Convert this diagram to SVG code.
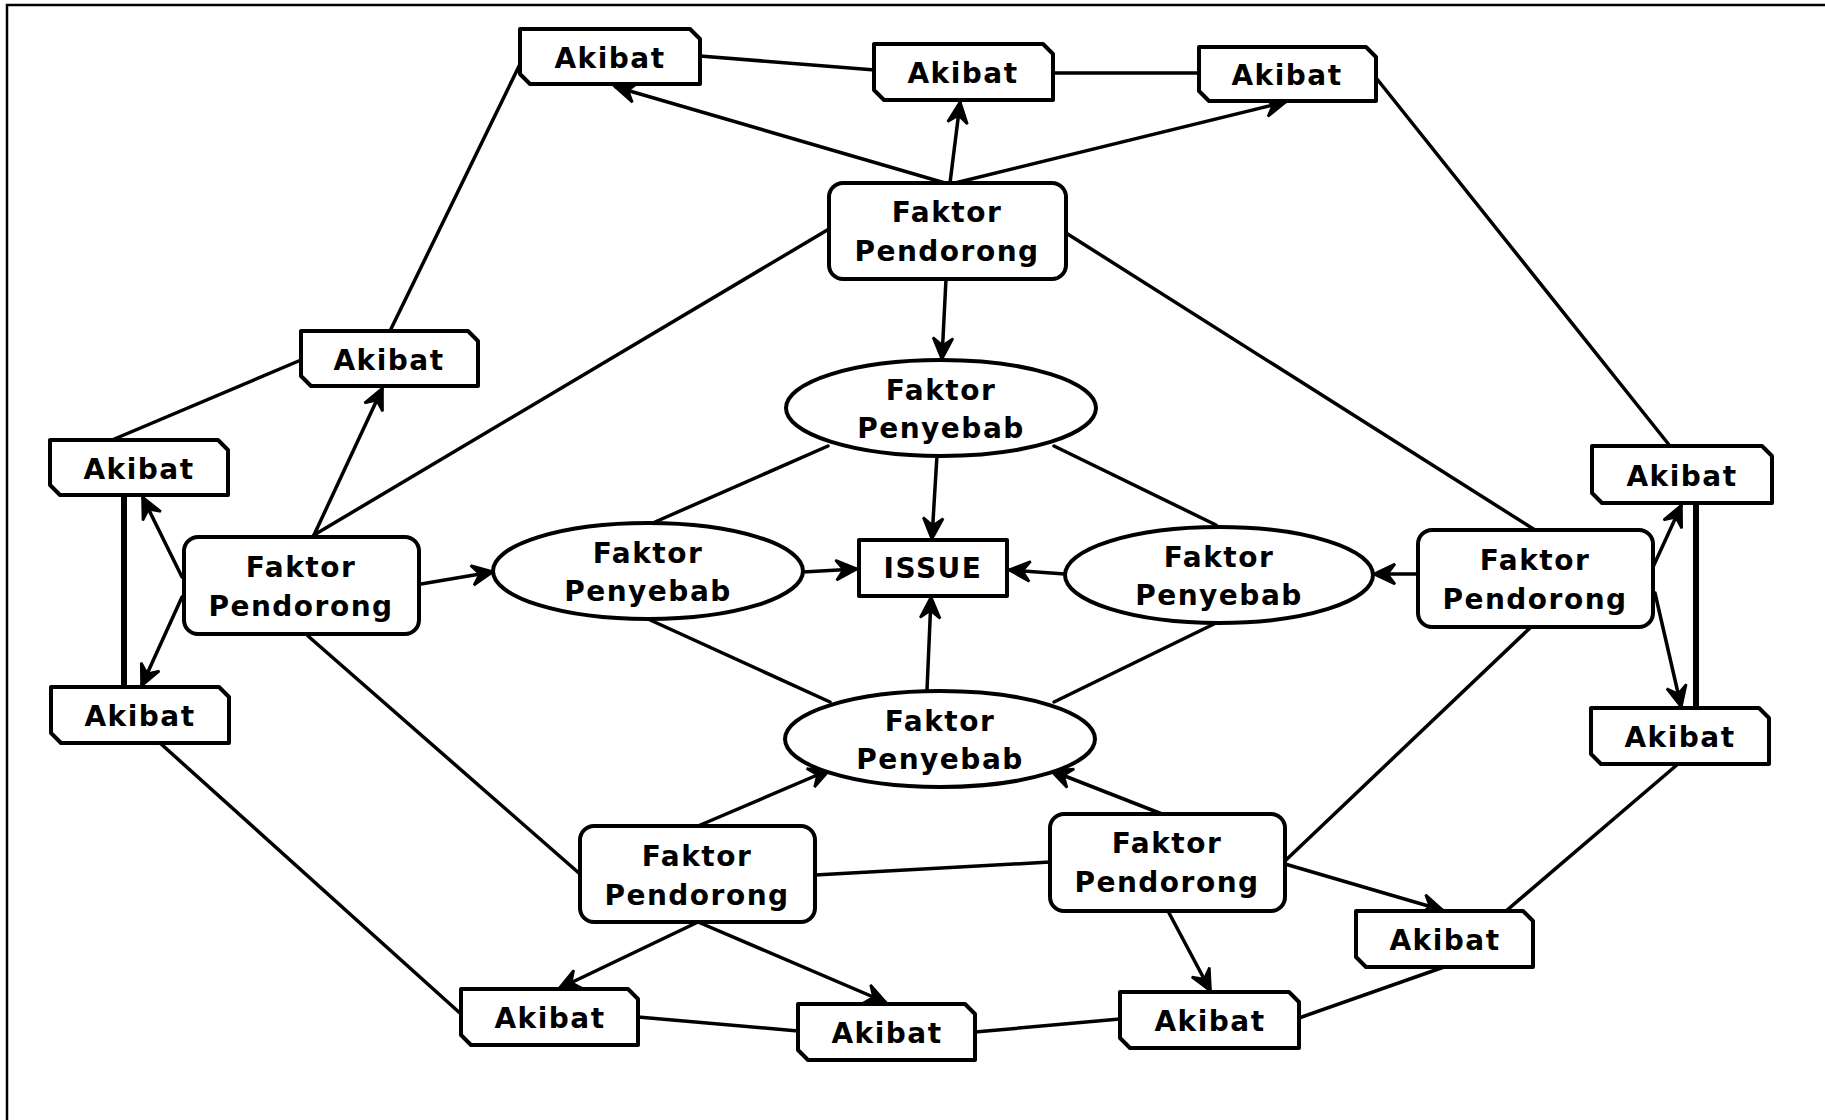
<svg xmlns="http://www.w3.org/2000/svg" width="1825" height="1120" viewBox="0 0 1825 1120">
<style>
.n{fill:#fff;stroke:#000;stroke-width:4;stroke-linejoin:round}
.t{font-family:"DejaVu Sans",sans-serif;font-weight:bold;font-size:28px;text-anchor:middle;letter-spacing:1.5px;fill:#000}
.c{stroke:#000;stroke-width:3.5;fill:none;stroke-linecap:round}
.a{marker-end:url(#ah)}
.v{stroke-width:6}
</style>
<defs>
<marker id="ah" markerUnits="userSpaceOnUse" markerWidth="30" markerHeight="30" refX="0" refY="0" viewBox="-20 -12 24 24" orient="auto" overflow="visible">
<path d="M1,0 L-16,-8 L-10,0 L-16,8 Z" fill="#000" stroke="#000" stroke-width="2" stroke-linejoin="miter"/>
</marker>
</defs>
<rect width="1825" height="1120" fill="#fff"/>
<path d="M7,1120 V5 H1825" fill="none" stroke="#000" stroke-width="2.5"/>
<g id="connectors">
<line class="c a" x1="945" y1="183" x2="616" y2="87"/>
<line class="c a" x1="950" y1="183" x2="960" y2="103"/>
<line class="c a" x1="955" y1="183" x2="1285" y2="102"/>
<line class="c a" x1="946" y1="279" x2="942" y2="358"/>
<line class="c a" x1="314" y1="535" x2="382" y2="389"/>
<line class="c a" x1="182" y1="577" x2="143" y2="498"/>
<line class="c a" x1="182" y1="597" x2="142" y2="685"/>
<line class="c a" x1="421" y1="584" x2="492" y2="572"/>
<line class="c a" x1="803" y1="572" x2="856" y2="569"/>
<line class="c a" x1="937" y1="455" x2="932" y2="538"/>
<line class="c a" x1="1065" y1="574" x2="1010" y2="570"/>
<line class="c a" x1="927" y1="690" x2="931" y2="598"/>
<line class="c a" x1="1418" y1="574" x2="1375" y2="574"/>
<line class="c a" x1="1653" y1="567" x2="1681" y2="506"/>
<line class="c a" x1="1655" y1="593" x2="1681" y2="706"/>
<line class="c a" x1="1162" y1="814" x2="1052" y2="771"/>
<line class="c a" x1="1168" y1="911" x2="1210" y2="990"/>
<line class="c a" x1="1285" y1="864" x2="1442" y2="910"/>
<line class="c a" x1="698" y1="826" x2="829" y2="770"/>
<line class="c a" x1="698" y1="922" x2="560" y2="988"/>
<line class="c a" x1="698" y1="922" x2="885" y2="1002"/>
<line class="c" x1="700" y1="56" x2="875" y2="70"/>
<line class="c" x1="1053" y1="73" x2="1199" y2="73"/>
<line class="c" x1="522" y1="60" x2="390" y2="331"/>
<line class="c" x1="301" y1="360" x2="112" y2="440"/>
<line class="c v" x1="124" y1="495" x2="124" y2="687"/>
<line class="c v" x1="1696" y1="503" x2="1696" y2="708"/>
<line class="c" x1="829" y1="229" x2="314" y2="535"/>
<line class="c" x1="1066" y1="233" x2="1535" y2="530"/>
<line class="c" x1="655" y1="522" x2="828" y2="446"/>
<line class="c" x1="1054" y1="446" x2="1216" y2="525"/>
<line class="c" x1="648" y1="619" x2="830" y2="702"/>
<line class="c" x1="1216" y1="623" x2="1054" y2="702"/>
<line class="c" x1="308" y1="636" x2="580" y2="874"/>
<line class="c" x1="160" y1="743" x2="461" y2="1014"/>
<line class="c" x1="815" y1="875" x2="1050" y2="862"/>
<line class="c" x1="638" y1="1017" x2="798" y2="1031"/>
<line class="c" x1="975" y1="1032" x2="1120" y2="1019"/>
<line class="c" x1="1299" y1="1018" x2="1444" y2="967"/>
<line class="c" x1="1531" y1="627" x2="1286" y2="860"/>
<line class="c" x1="1678" y1="764" x2="1506" y2="911"/>
<line class="c" x1="1377" y1="79" x2="1670" y2="446"/>
</g>
<g id="issue"><rect class="n" x="859" y="540" width="148" height="56"/><text class="t" x="933" y="578">ISSUE</text></g>
<g id="penyebab-top"><ellipse class="n" cx="941" cy="408" rx="155" ry="48"/><text class="t" x="941" y="400">Faktor</text><text class="t" x="941" y="438">Penyebab</text></g>
<g id="penyebab-left"><ellipse class="n" cx="648" cy="571" rx="155" ry="48"/><text class="t" x="648" y="563">Faktor</text><text class="t" x="648" y="601">Penyebab</text></g>
<g id="penyebab-right"><ellipse class="n" cx="1219" cy="575" rx="154" ry="48"/><text class="t" x="1219" y="567">Faktor</text><text class="t" x="1219" y="605">Penyebab</text></g>
<g id="penyebab-bottom"><ellipse class="n" cx="940" cy="739" rx="155" ry="48"/><text class="t" x="940" y="731">Faktor</text><text class="t" x="940" y="769">Penyebab</text></g>
<g id="pendorong-top"><rect class="n" x="829" y="183" width="237" height="96" rx="14"/><text class="t" x="947" y="222">Faktor</text><text class="t" x="947" y="261">Pendorong</text></g>
<g id="pendorong-left"><rect class="n" x="184" y="537" width="235" height="97" rx="14"/><text class="t" x="301" y="577">Faktor</text><text class="t" x="301" y="616">Pendorong</text></g>
<g id="pendorong-right"><rect class="n" x="1418" y="530" width="235" height="97" rx="14"/><text class="t" x="1535" y="570">Faktor</text><text class="t" x="1535" y="609">Pendorong</text></g>
<g id="pendorong-bl"><rect class="n" x="580" y="826" width="235" height="96" rx="14"/><text class="t" x="697" y="866">Faktor</text><text class="t" x="697" y="905">Pendorong</text></g>
<g id="pendorong-br"><rect class="n" x="1050" y="814" width="235" height="97" rx="14"/><text class="t" x="1167" y="853">Faktor</text><text class="t" x="1167" y="892">Pendorong</text></g>
<g id="akibat-t1"><polygon class="n" points="520,29 690,29 700,39 700,84 530,84 520,74"/><text class="t" x="610" y="68">Akibat</text></g>
<g id="akibat-t2"><polygon class="n" points="874,44 1043,44 1053,54 1053,100 884,100 874,90"/><text class="t" x="963" y="83">Akibat</text></g>
<g id="akibat-t3"><polygon class="n" points="1199,47 1366,47 1376,57 1376,101 1209,101 1199,91"/><text class="t" x="1287" y="85">Akibat</text></g>
<g id="akibat-lu"><polygon class="n" points="301,331 468,331 478,341 478,386 311,386 301,376"/><text class="t" x="389" y="370">Akibat</text></g>
<g id="akibat-lt"><polygon class="n" points="50,440 218,440 228,450 228,495 60,495 50,485"/><text class="t" x="139" y="479">Akibat</text></g>
<g id="akibat-lb"><polygon class="n" points="51,687 219,687 229,697 229,743 61,743 51,733"/><text class="t" x="140" y="726">Akibat</text></g>
<g id="akibat-rt"><polygon class="n" points="1592,446 1762,446 1772,456 1772,503 1602,503 1592,493"/><text class="t" x="1682" y="486">Akibat</text></g>
<g id="akibat-rb"><polygon class="n" points="1591,708 1759,708 1769,718 1769,764 1601,764 1591,754"/><text class="t" x="1680" y="747">Akibat</text></g>
<g id="akibat-b1"><polygon class="n" points="461,989 628,989 638,999 638,1045 471,1045 461,1035"/><text class="t" x="550" y="1028">Akibat</text></g>
<g id="akibat-b2"><polygon class="n" points="798,1004 965,1004 975,1014 975,1060 808,1060 798,1050"/><text class="t" x="887" y="1043">Akibat</text></g>
<g id="akibat-b3"><polygon class="n" points="1120,992 1289,992 1299,1002 1299,1048 1130,1048 1120,1038"/><text class="t" x="1210" y="1031">Akibat</text></g>
<g id="akibat-b4"><polygon class="n" points="1356,911 1523,911 1533,921 1533,967 1366,967 1356,957"/><text class="t" x="1445" y="950">Akibat</text></g>
</svg>
